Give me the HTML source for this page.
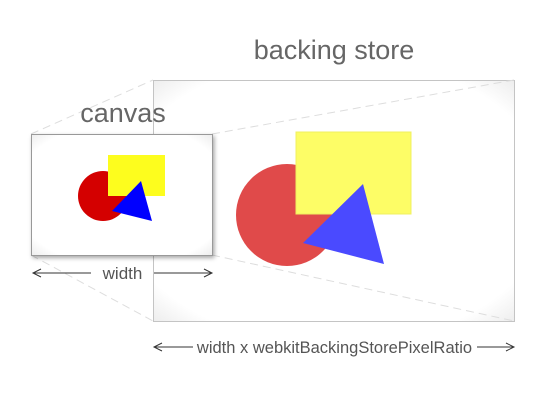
<!DOCTYPE html>
<html><head><style>
body{margin:0;background:#fff;}
</style></head><body>
<svg width="550" height="400" xmlns="http://www.w3.org/2000/svg" font-family="Liberation Sans, sans-serif">
<defs>
<filter id="sh" x="-10%" y="-10%" width="130%" height="130%"><feDropShadow dx="1.5" dy="2" stdDeviation="2" flood-color="#000" flood-opacity="0.35"/></filter>
<radialGradient id="g1" cx="50%" cy="50%" r="75%"><stop offset="80%" stop-color="#fff"/><stop offset="100%" stop-color="#e6e6e6"/></radialGradient>
</defs>
<rect x="153.5" y="80.5" width="361" height="241" fill="url(#g1)" stroke="#c4c4c4"/>
<g stroke="#ddd" stroke-dasharray="8,5" stroke-width="1">
<line x1="31" y1="134" x2="153" y2="80"/>
<line x1="212" y1="134" x2="514" y2="80"/>
<line x1="31" y1="255" x2="153" y2="321"/>
<line x1="212" y1="255" x2="514" y2="321"/>
</g>
<circle cx="287" cy="215" r="51" fill="#e04a4a"/>
<rect x="296" y="132" width="115" height="82" fill="#fdfd66" stroke="#f0f060"/>
<polygon points="363,184 303,243 384,264" fill="#4a4aff"/>
<rect x="31.5" y="134.5" width="181" height="121" fill="url(#g1)" stroke="#999" filter="url(#sh)"/>
<circle cx="103" cy="196" r="25" fill="#d40000"/>
<rect x="108" y="155" width="57" height="41" fill="#fdfd1e"/>
<polygon points="141,181 112,211 152,221" fill="#0000ff"/>
<text x="334" y="59" font-size="27" fill="#666" text-anchor="middle">backing store</text>
<text x="123" y="122" font-size="27" fill="#666" text-anchor="middle">canvas</text>
<g stroke="#333" fill="none" stroke-width="1">
<line x1="33" y1="273" x2="91" y2="273"/><polyline points="41,269 33,273 41,277"/>
<line x1="154" y1="273" x2="212" y2="273"/><polyline points="204,269 212,273 204,277"/>
<line x1="154" y1="347" x2="193" y2="347"/><polyline points="162,343 154,347 162,351"/>
<line x1="477" y1="347" x2="514" y2="347"/><polyline points="506,343 514,347 506,351"/>
</g>
<text x="122.5" y="279" font-size="17" fill="#555" text-anchor="middle">width</text>
<text x="334.5" y="353" font-size="16.5" fill="#555" text-anchor="middle">width x webkitBackingStorePixelRatio</text>
</svg>
</body></html>
